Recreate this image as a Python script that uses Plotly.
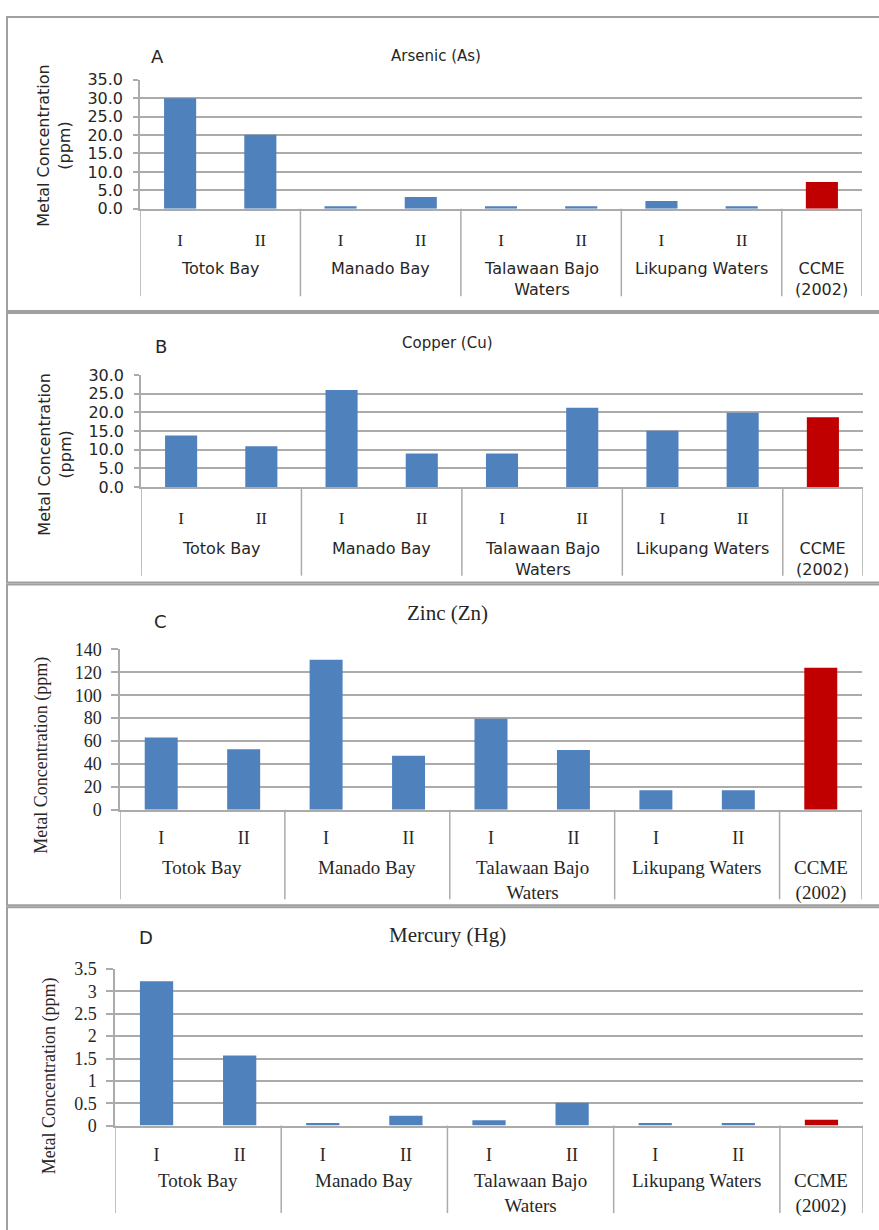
import plotly.graph_objects as go

W, H = 879, 1230

# ---------------- data ----------------
groups = ["Totok Bay", "Manado Bay", "Talawaan Bajo<br>Waters", "Likupang Waters", "CCME<br>(2002)"]
group_sizes = [2, 2, 2, 2, 1]
sites = ["I", "II", "I", "II", "I", "II", "I", "II", ""]
is_guideline = [False, False, False, False, False, False, False, False, True]

arsenic = [30.0, 20.1, 0.7, 3.2, 0.7, 0.7, 2.1, 0.7, 7.24]
copper = [13.8, 10.9, 26.0, 9.0, 9.0, 21.2, 15.1, 19.9, 18.7]
zinc = [63.0, 52.9, 130.9, 47.2, 79.5, 52.3, 17.0, 17.0, 124.0]
mercury = [3.23, 1.57, 0.06, 0.22, 0.12, 0.51, 0.06, 0.06, 0.13]

series = [arsenic, copper, zinc, mercury]
titles = ["Arsenic (As)", "Copper (Cu)", "Zinc (Zn)", "Mercury (Hg)"]
letters = ["A", "B", "C", "D"]
y_title = "Metal Concentration (ppm)"
y_max = [35, 30, 140, 3.5]
y_step = [5, 5, 20, 0.5]
y_format = [".1f", ".1f", "", ""]

# ---------------- styling / layout (pixels) ----------------
SANS = "DejaVu Sans"
SERIF = "Liberation Serif"
BLUE = "#4F81BD"
RED = "#C00000"
GRID = "#ABABAB"
TXT = "#262626"

panels = [
    dict(x0=140, x1=862, ytop=71, ybot=202, font=SANS, serif=False, ytick=16, ylen=5, ystand=7,
         sub=17, sublen=15, grp=16, grp_c=262, div_bot=291, box=(7, 306),
         letter=(157, 47), title=(436, 47), tsize=15, ytitle=(54, 138), ytsize=16),
    dict(x0=141, x1=863, ytop=371, ybot=485, font=SANS, serif=False, ytick=16, ylen=5, ystand=7,
         sub=17, sublen=15, grp=16, grp_c=547, div_bot=575, box=(308, 582),
         letter=(161, 342), title=(448, 339), tsize=15, ytitle=(55, 452), ytsize=16),
    dict(x0=120, x1=862, ytop=650, ybot=813, font=SERIF, serif=True, ytick=18, ylen=7, ystand=6,
         sub=18, sublen=11, grp=19, grp_c=872, div_bot=904, box=(584, 910),
         letter=(160, 622), title=(448, 613), tsize=21, ytitle=(42, 758), ytsize=18),
    dict(x0=115, x1=863, ytop=975, ybot=1134, font=SERIF, serif=True, ytick=18, ylen=7, ystand=6,
         sub=18, sublen=12, grp=19, grp_c=1190, div_bot=1223, box=(912, 1245),
         letter=(146, 943), title=(448, 940), tsize=21, ytitle=(49, 1084), ytsize=18),
]


def px(x):
    return x / W


def py(y):
    return 1 - y / H


fig = go.Figure()
layout = dict(
    width=W, height=H, autosize=False,
    margin=dict(l=0, r=0, t=0, b=0),
    paper_bgcolor="white", plot_bgcolor="white",
    showlegend=False,
)
annotations = []
shapes = []

idx = list(range(len(sites)))
# group centres and boundaries derived from group sizes
centres, bounds = [], [-0.5]
start = 0
for n in group_sizes:
    centres.append(start + (n - 1) / 2)
    start += n
    bounds.append(start - 0.5)

for i, (vals, p) in enumerate(zip(series, panels)):
    xa = "x" if i == 0 else f"x{i + 1}"
    ya = "y" if i == 0 else f"y{i + 1}"
    xkey = "xaxis" if i == 0 else f"xaxis{i + 1}"
    ykey = "yaxis" if i == 0 else f"yaxis{i + 1}"

    fig.add_trace(go.Bar(
        x=idx, y=vals, xaxis=xa, yaxis=ya, width=0.4,
        marker=dict(color=[RED if g else BLUE for g in is_guideline], line=dict(width=0)),
        hoverinfo="x+y",
    ))

    layout[xkey] = dict(
        domain=[px(p["x0"]), px(p["x1"])], anchor=ya,
        range=[-0.5, len(sites) - 0.5], tickmode="array",
        tickvals=idx, ticktext=sites,
        ticks="outside", ticklen=p["sublen"], tickcolor="rgba(0,0,0,0)",
        tickfont=dict(family=SERIF, size=p["sub"], color=TXT),
        showgrid=False, zeroline=False, showline=True, linecolor=GRID, linewidth=1.5,
        fixedrange=True,
    )
    layout[ykey] = dict(
        domain=[py(p["ybot"]), py(p["ytop"])], anchor=xa,
        range=[0, y_max[i]], dtick=y_step[i], tick0=0, tickformat=y_format[i],
        ticks="outside", ticklen=p["ylen"], tickcolor=GRID, tickwidth=1.5,
        ticklabelstandoff=p["ystand"],
        tickfont=dict(family=p["font"], size=p["ytick"], color=TXT),
        showgrid=True, gridcolor=GRID, gridwidth=1.5, zeroline=False,
        showline=True, linecolor=GRID, linewidth=1.5, fixedrange=True,
    )

    # group labels
    for g, c in zip(groups, centres):
        annotations.append(dict(
            text=g, x=c, xref=xa, y=py(p["grp_c"] - 0.65 * p["grp"] - 1), yref="paper",
            xanchor="center", yanchor="top", showarrow=False, align="center",
            font=dict(family=p["font"], size=p["grp"], color=TXT),
        ))
    # dividers between groups
    for b in bounds:
        shapes.append(dict(
            type="line", xref=xa, yref="paper", x0=b, x1=b,
            y0=py(p["ybot"]), y1=py(p["div_bot"]),
            line=dict(color=GRID, width=1.5),
        ))
    # panel box
    shapes.append(dict(
        type="rect", xref="paper", yref="paper",
        x0=px(7), x1=px(W + 20), y0=py(p["box"][1]), y1=py(p["box"][0]),
        line=dict(color="#A0A0A0", width=2), layer="below",
    ))
    # letter
    annotations.append(dict(
        text=letters[i], x=px(p["letter"][0]), y=py(p["letter"][1]), xref="paper", yref="paper",
        xanchor="center", yanchor="middle", showarrow=False,
        font=dict(family=SANS, size=18, color=TXT),
    ))
    # title
    annotations.append(dict(
        text=titles[i], x=px(p["title"][0]), y=py(p["title"][1]), xref="paper", yref="paper",
        xanchor="center", yanchor="middle", showarrow=False,
        font=dict(family=p["font"], size=p["tsize"], color=TXT),
    ))
    # y-axis title
    yt = y_title if p["serif"] else y_title.replace(" (", "<br>(")
    annotations.append(dict(
        text=yt, x=px(p["ytitle"][0]), y=py(p["ytitle"][1]), xref="paper", yref="paper",
        xanchor="center", yanchor="middle", showarrow=False, textangle=-90,
        font=dict(family=p["font"], size=p["ytsize"], color=TXT),
    ))

layout["annotations"] = annotations
layout["shapes"] = shapes
fig.update_layout(**layout)

fig.write_html("out.html", config={"displayModeBar": False},
               post_script="document.body.style.margin='0';")
